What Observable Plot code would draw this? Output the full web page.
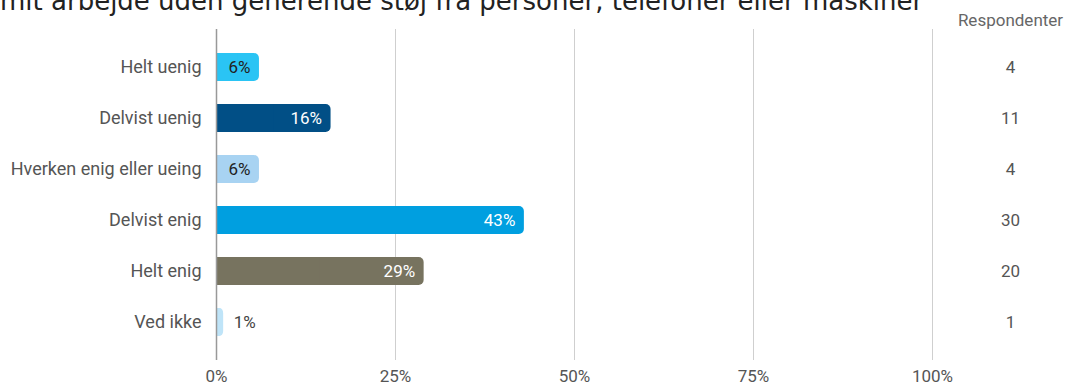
<!DOCTYPE html>
<html><head><meta charset="utf-8">
<script src="https://cdn.jsdelivr.net/npm/d3@7"></script>
<script src="https://cdn.jsdelivr.net/npm/@observablehq/plot@0.6"></script>
<style>
body{margin:0;background:#fff;overflow:hidden}
#wrap{position:relative;width:1066px;height:385px;overflow:hidden}
#title{position:absolute;left:0;top:-12px;font-family:"DejaVu Sans";font-size:26px;color:#222;white-space:nowrap;line-height:1;z-index:1}
#chart{position:absolute;left:0;top:0}
</style></head><body>
<div id="wrap"><div id="title">mit arbejde uden generende støj fra personer, telefoner eller maskiner</div><div id="chart"></div></div>
<script>
const categories = ["Helt uenig","Delvist uenig","Hverken enig eller ueing","Delvist enig","Helt enig","Ved ikke"];
const percents = [6,16,6,43,29,1];
const labels = ["6%","16%","6%","43%","29%","1%"];
const respondents = [4,11,4,30,20,1];
const colors = ["#2ac4f4","#014f86","#a8d3f2","#009fe0","#77735f","#bfe4f8"];
const xTicks = [0,25,50,75,100];
const xTickLabels = ["0%","25%","50%","75%","100%"];
const header = "Respondenter";

const darkBars = new Set(["Delvist uenig","Delvist enig","Helt enig"]);
const rows = categories.map((c,i)=>({cat:c, pct:percents[i], label:labels[i], n:respondents[i], color:colors[i]}));
const inside = rows.filter(d=>d.pct>3);
const outside = rows.filter(d=>d.pct<=3);

const chart = Plot.plot({
  width:1066, height:385,
  marginLeft:216, marginRight:134, marginTop:29, marginBottom:25,
  style:{fontFamily:"Roboto", fontSize:"17px", color:"#555", background:"transparent"},
  x:{domain:[0,100], ticks:xTicks, tickFormat:(d)=>xTickLabels[xTicks.indexOf(d)], tickSize:0, tickPadding:9, label:null},
  y:{domain:categories, paddingInner:0.46, paddingOuter:0.45, tickSize:0, tickPadding:15, label:null},
  marks:[
    Plot.ruleX(xTicks.filter(t=>t>0), {stroke:"#cfcfcf", strokeWidth:1}),
    Plot.barX(rows, {x1:0, x2:"pct", y:"cat", fill:"color", rx:5}),
    Plot.barX(rows, {x1:0, x2:d=>d.pct/2, y:"cat", fill:"color"}),
    Plot.ruleX([0], {stroke:"#999", strokeWidth:1.5}),
    Plot.text(inside, {x:"pct", y:"cat", text:"label", textAnchor:"end", dx:-9, fill:d=>darkBars.has(d.cat)?"#ffffff":"#222", fontSize:17}),
    Plot.text(outside, {x:"pct", y:"cat", text:"label", textAnchor:"start", dx:10, fill:"#444", fontSize:17}),
    Plot.text(rows, {y:"cat", text:d=>String(d.n), frameAnchor:"right", textAnchor:"middle", dx:78, fill:"#555", fontSize:17}),
    Plot.text([header], {frameAnchor:"top-right", textAnchor:"middle", dx:78, dy:-9, text:d=>d, fill:"#666", fontSize:17, lineAnchor:"middle"})
  ]
});
chart.querySelectorAll('g[aria-label="y-axis tick label"]').forEach(e=>e.setAttribute("font-size","18"));
document.getElementById("chart").appendChild(chart);
</script>
</body></html>
